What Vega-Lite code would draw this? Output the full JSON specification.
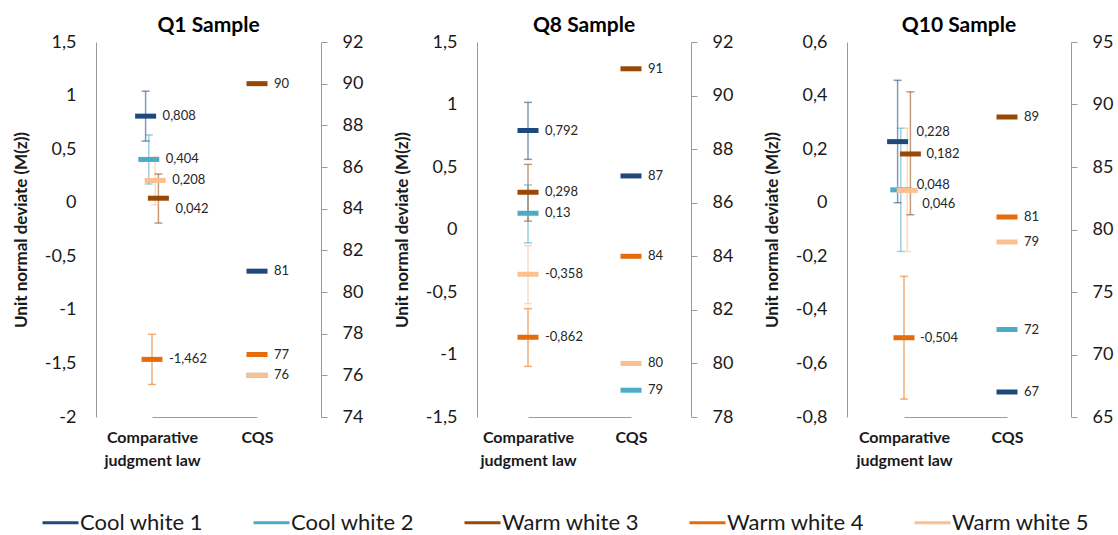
{
  "$schema": "https://vega.github.io/schema/vega-lite/v6.json",
  "padding": {"left": 12, "top": 15, "right": 5, "bottom": 5},
  "spacing": 27,
  "config": {
    "font": "Lato",
    "view": {"stroke": null},
    "locale": {"number": {"decimal": ",", "thousands": ".", "grouping": [3], "currency": ["", " €"], "minus": "-"}},
    "axis": {"grid": false, "labelFont": "Lato", "labelFontSize": 18, "labelColor": "#1a1a1a", "domainColor": "#9a9a9a", "tickColor": "#9a9a9a", "titleFont": "Lato", "titleFontSize": 17, "titleFontWeight": "bold", "titleColor": "#1a1a1a"},
    "title": {"font": "Lato", "fontSize": 21, "fontWeight": "bold", "color": "#000000", "offset": -3},
    "legend": {"labelFont": "Lato", "labelFontSize": 22, "labelColor": "#1a1a1a", "labelLimit": 300, "symbolOpacity": 1}
  },
  "datasets": {
    "q1": [
      {"series": "Cool white 1", "method": "Comparative judgment law", "value": 0.808, "lo": 0.575, "hi": 1.041},
      {"series": "Cool white 2", "method": "Comparative judgment law", "value": 0.404, "lo": 0.175, "hi": 0.632},
      {"series": "Warm white 3", "method": "Comparative judgment law", "value": 0.042, "lo": -0.19, "hi": 0.268},
      {"series": "Warm white 4", "method": "Comparative judgment law", "value": -1.462, "lo": -1.696, "hi": -1.228},
      {"series": "Warm white 5", "method": "Comparative judgment law", "value": 0.208, "lo": -0.02, "hi": 0.427},
      {"series": "Cool white 1", "method": "CQS", "value": 81},
      {"series": "Cool white 2", "method": "CQS", "value": 76},
      {"series": "Warm white 3", "method": "CQS", "value": 90},
      {"series": "Warm white 4", "method": "CQS", "value": 77},
      {"series": "Warm white 5", "method": "CQS", "value": 76}
    ],
    "q8": [
      {"series": "Cool white 1", "method": "Comparative judgment law", "value": 0.792, "lo": 0.561, "hi": 1.017},
      {"series": "Cool white 2", "method": "Comparative judgment law", "value": 0.13, "lo": -0.107, "hi": 0.357},
      {"series": "Warm white 3", "method": "Comparative judgment law", "value": 0.298, "lo": 0.067, "hi": 0.521},
      {"series": "Warm white 4", "method": "Comparative judgment law", "value": -0.862, "lo": -1.095, "hi": -0.633},
      {"series": "Warm white 5", "method": "Comparative judgment law", "value": -0.358, "lo": -0.593, "hi": -0.13},
      {"series": "Cool white 1", "method": "CQS", "value": 87},
      {"series": "Cool white 2", "method": "CQS", "value": 79},
      {"series": "Warm white 3", "method": "CQS", "value": 91},
      {"series": "Warm white 4", "method": "CQS", "value": 84},
      {"series": "Warm white 5", "method": "CQS", "value": 80}
    ],
    "q10": [
      {"series": "Cool white 1", "method": "Comparative judgment law", "value": 0.228, "lo": 0.0, "hi": 0.457},
      {"series": "Cool white 2", "method": "Comparative judgment law", "value": 0.048, "lo": -0.182, "hi": 0.278},
      {"series": "Warm white 3", "method": "Comparative judgment law", "value": 0.182, "lo": -0.045, "hi": 0.414},
      {"series": "Warm white 4", "method": "Comparative judgment law", "value": -0.504, "lo": -0.733, "hi": -0.275},
      {"series": "Warm white 5", "method": "Comparative judgment law", "value": 0.046, "lo": -0.182, "hi": 0.278},
      {"series": "Cool white 1", "method": "CQS", "value": 67},
      {"series": "Cool white 2", "method": "CQS", "value": 72},
      {"series": "Warm white 3", "method": "CQS", "value": 89},
      {"series": "Warm white 4", "method": "CQS", "value": 81},
      {"series": "Warm white 5", "method": "CQS", "value": 79}
    ]
  },
  "hconcat": [
    {
      "title": "Q1 Sample",
      "width": 225, "height": 375,
      "data": {"name": "q1"},
      "encoding": {
        "x": {"field": "method", "type": "nominal", "scale": {"type": "point", "padding": 0, "domain": ["Comparative judgment law", "CQS"], "range": [56, 161]},
              "axis": {"title": null, "ticks": false, "labelAngle": 0, "labelFontSize": 16, "labelFontWeight": "bold", "labelPadding": 12, "labelLineHeight": 23, "labelDx": 7,
                       "labelExpr": "datum.value == 'Comparative judgment law' ? ['Comparative', 'judgment law'] : datum.value"}},
        "color": {"field": "series", "type": "nominal",
                  "scale": {"domain": ["Cool white 1", "Cool white 2", "Warm white 3", "Warm white 4", "Warm white 5"], "range": ["#1F497D", "#4BACC6", "#984807", "#E46C0A", "#FAC090"]},
                  "legend": {"orient": "none", "legendX": -55, "legendY": 461, "direction": "horizontal", "title": null, "symbolType": "stroke", "symbolSize": 1296, "symbolStrokeWidth": 3, "symbolOpacity": 1, "labelOffset": 0, "columnPadding": 44,
                             "encode": {"symbols": {"enter": {"stroke": {"signal": "datum.value == 'Cool white 2' ? '#558ED5' : scale('color', datum.value)"}},
                                                    "update": {"stroke": {"signal": "datum.value == 'Cool white 2' ? '#558ED5' : scale('color', datum.value)"}, "fill": {"value": "transparent"}, "strokeWidth": {"value": 3}, "opacity": {"value": 1}, "strokeOpacity": {"value": 1}}}}}}
      },
      "layer": [
        {
          "transform": [{"filter": "datum.method == 'Comparative judgment law'"}],
          "encoding": {"xOffset": {"field": "series", "type": "nominal", "scale": {"type": "point", "domain": ["Cool white 1", "Cool white 2", "Warm white 4", "Warm white 5", "Warm white 3"], "range": [-8, 8]}}},
          "layer": [
            {"mark": {"type": "rule", "strokeWidth": 1.5, "opacity": 0.55},
             "encoding": {"y": {"field": "lo", "type": "quantitative", "scale": {"domain": [-2, 1.5], "nice": false, "zero": false},
                                "axis": {"title": "Unit normal deviate (M(z))", "values": [-2, -1.5, -1, -0.5, 0, 0.5, 1, 1.5], "format": ".1~f", "ticks": false, "tickSize": 0, "labelPadding": 20, "minExtent": 56, "maxExtent": 56, "titlePadding": 10}},
                          "y2": {"field": "hi"}}},
            {"mark": {"type": "tick", "size": 8, "thickness": 1.5, "opacity": 0.55}, "encoding": {"y": {"field": "lo", "type": "quantitative", "title": "Unit normal deviate (M(z))"}}},
            {"mark": {"type": "tick", "size": 8, "thickness": 1.5, "opacity": 0.55}, "encoding": {"y": {"field": "hi", "type": "quantitative", "title": "Unit normal deviate (M(z))"}}},
            {"mark": {"type": "tick", "size": 21, "thickness": 5, "opacity": 1}, "encoding": {"y": {"field": "value", "type": "quantitative", "title": "Unit normal deviate (M(z))"}}},
            {"transform": [{"filter": "datum.series != 'Warm white 3'"}],
             "mark": {"type": "text", "align": "left", "baseline": "middle", "dx": 17, "fontSize": 13},
             "encoding": {"y": {"field": "value", "type": "quantitative", "title": "Unit normal deviate (M(z))"}, "text": {"field": "value", "type": "quantitative", "format": ".3~f"}, "color": {"value": "#262626"}}},
            {"transform": [{"filter": "datum.series == 'Warm white 3'"}],
             "mark": {"type": "text", "align": "left", "baseline": "middle", "dx": 17, "dy": 11, "fontSize": 13},
             "encoding": {"y": {"field": "value", "type": "quantitative", "title": "Unit normal deviate (M(z))"}, "text": {"field": "value", "type": "quantitative", "format": ".3~f"}, "color": {"value": "#262626"}}}
          ]
        },
        {
          "transform": [{"filter": "datum.method == 'CQS'"}],
          "layer": [
            {"mark": {"type": "tick", "size": 21, "thickness": 5, "opacity": 1},
             "encoding": {"y": {"field": "value", "type": "quantitative", "scale": {"domain": [74, 92], "nice": false, "zero": false},
                                "axis": {"orient": "right", "title": null, "values": [74, 76, 78, 80, 82, 84, 86, 88, 90, 92], "format": "d", "tickSize": 6, "labelPadding": 15, "minExtent": 45, "maxExtent": 45}}}},
            {"transform": [{"filter": "datum.series != 'Warm white 5'"}],
             "mark": {"type": "text", "align": "left", "baseline": "middle", "dx": 17, "fontSize": 13},
             "encoding": {"y": {"field": "value", "type": "quantitative", "title": null}, "text": {"field": "value", "type": "quantitative", "format": "d"}, "color": {"value": "#262626"}}}
          ]
        }
      ],
      "resolve": {"scale": {"y": "independent"}}
    },
    {
      "title": "Q8 Sample",
      "width": 214, "height": 375,
      "data": {"name": "q8"},
      "encoding": {
        "x": {"field": "method", "type": "nominal", "scale": {"type": "point", "padding": 0, "domain": ["Comparative judgment law", "CQS"], "range": [51, 154]},
              "axis": {"title": null, "ticks": false, "labelAngle": 0, "labelFontSize": 16, "labelFontWeight": "bold", "labelPadding": 12, "labelLineHeight": 23, "labelDx": 10,
                       "labelExpr": "datum.value == 'Comparative judgment law' ? ['Comparative', 'judgment law'] : datum.value"}},
        "color": {"field": "series", "type": "nominal",
                  "scale": {"domain": ["Cool white 1", "Cool white 2", "Warm white 3", "Warm white 4", "Warm white 5"], "range": ["#1F497D", "#4BACC6", "#984807", "#E46C0A", "#FAC090"]}}
      },
      "layer": [
        {
          "transform": [{"filter": "datum.method == 'Comparative judgment law'"}],
          "layer": [
            {"mark": {"type": "rule", "strokeWidth": 1.5, "opacity": 0.55},
             "encoding": {"y": {"field": "lo", "type": "quantitative", "scale": {"domain": [-1.5, 1.5], "nice": false, "zero": false},
                                "axis": {"title": "Unit normal deviate (M(z))", "values": [-1.5, -1, -0.5, 0, 0.5, 1, 1.5], "format": ".1~f", "ticks": false, "tickSize": 0, "labelPadding": 20, "minExtent": 56, "maxExtent": 56, "titlePadding": 10}},
                          "y2": {"field": "hi"}}},
            {"mark": {"type": "tick", "size": 8, "thickness": 1.5, "opacity": 0.55}, "encoding": {"y": {"field": "lo", "type": "quantitative", "title": "Unit normal deviate (M(z))"}}},
            {"mark": {"type": "tick", "size": 8, "thickness": 1.5, "opacity": 0.55}, "encoding": {"y": {"field": "hi", "type": "quantitative", "title": "Unit normal deviate (M(z))"}}},
            {"mark": {"type": "tick", "size": 21, "thickness": 5, "opacity": 1}, "encoding": {"y": {"field": "value", "type": "quantitative", "title": "Unit normal deviate (M(z))"}}},
            {"mark": {"type": "text", "align": "left", "baseline": "middle", "dx": 17, "fontSize": 13},
             "encoding": {"y": {"field": "value", "type": "quantitative", "title": "Unit normal deviate (M(z))"}, "text": {"field": "value", "type": "quantitative", "format": ".3~f"}, "color": {"value": "#262626"}}}
          ]
        },
        {
          "transform": [{"filter": "datum.method == 'CQS'"}],
          "layer": [
            {"mark": {"type": "tick", "size": 21, "thickness": 5, "opacity": 1},
             "encoding": {"y": {"field": "value", "type": "quantitative", "scale": {"domain": [78, 92], "nice": false, "zero": false},
                                "axis": {"orient": "right", "title": null, "values": [78, 80, 82, 84, 86, 88, 90, 92], "format": "d", "tickSize": 6, "labelPadding": 15, "minExtent": 45, "maxExtent": 45}}}},
            {"mark": {"type": "text", "align": "left", "baseline": "middle", "dx": 17, "fontSize": 13},
             "encoding": {"y": {"field": "value", "type": "quantitative", "title": null}, "text": {"field": "value", "type": "quantitative", "format": "d"}, "color": {"value": "#262626"}}}
          ]
        }
      ],
      "resolve": {"scale": {"y": "independent"}}
    },
    {
      "title": "Q10 Sample",
      "width": 224, "height": 375,
      "data": {"name": "q10"},
      "encoding": {
        "x": {"field": "method", "type": "nominal", "scale": {"type": "point", "padding": 0, "domain": ["Comparative judgment law", "CQS"], "range": [57, 160]},
              "axis": {"title": null, "ticks": false, "labelAngle": 0, "labelFontSize": 16, "labelFontWeight": "bold", "labelPadding": 12, "labelLineHeight": 23, "labelDx": 6,
                       "labelExpr": "datum.value == 'Comparative judgment law' ? ['Comparative', 'judgment law'] : datum.value"}},
        "color": {"field": "series", "type": "nominal",
                  "scale": {"domain": ["Cool white 1", "Cool white 2", "Warm white 3", "Warm white 4", "Warm white 5"], "range": ["#1F497D", "#4BACC6", "#984807", "#E46C0A", "#FAC090"]}}
      },
      "layer": [
        {
          "transform": [{"filter": "datum.method == 'Comparative judgment law'"}],
          "encoding": {"xOffset": {"field": "series", "type": "nominal", "scale": {"type": "point", "domain": ["Cool white 1", "Warm white 3", "Warm white 4", "Cool white 2", "Warm white 5"], "range": [-8, 13]}}},
          "layer": [
            {"mark": {"type": "rule", "strokeWidth": 1.5, "opacity": 0.55},
             "encoding": {"y": {"field": "lo", "type": "quantitative", "scale": {"domain": [-0.8, 0.6], "nice": false, "zero": false},
                                "axis": {"title": "Unit normal deviate (M(z))", "values": [-0.8, -0.6, -0.4, -0.2, 0, 0.2, 0.4, 0.6], "format": ".1~f", "ticks": false, "tickSize": 0, "labelPadding": 20, "minExtent": 56, "maxExtent": 56, "titlePadding": 10}},
                          "y2": {"field": "hi"}}},
            {"mark": {"type": "tick", "size": 8, "thickness": 1.5, "opacity": 0.55}, "encoding": {"y": {"field": "lo", "type": "quantitative", "title": "Unit normal deviate (M(z))"}}},
            {"mark": {"type": "tick", "size": 8, "thickness": 1.5, "opacity": 0.55}, "encoding": {"y": {"field": "hi", "type": "quantitative", "title": "Unit normal deviate (M(z))"}}},
            {"mark": {"type": "tick", "size": 21, "thickness": 5, "opacity": 1}, "encoding": {"y": {"field": "value", "type": "quantitative", "title": "Unit normal deviate (M(z))"}}},
            {"transform": [{"filter": "datum.series == 'Warm white 3' || datum.series == 'Warm white 4'"}],
             "mark": {"type": "text", "align": "left", "baseline": "middle", "dx": 16, "fontSize": 13},
             "encoding": {"y": {"field": "value", "type": "quantitative", "title": "Unit normal deviate (M(z))"}, "text": {"field": "value", "type": "quantitative", "format": ".3~f"}, "color": {"value": "#262626"}}},
            {"transform": [{"filter": "datum.series == 'Cool white 1'"}],
             "mark": {"type": "text", "align": "left", "baseline": "middle", "dx": 19, "dy": -10, "fontSize": 13},
             "encoding": {"y": {"field": "value", "type": "quantitative", "title": "Unit normal deviate (M(z))"}, "text": {"field": "value", "type": "quantitative", "format": ".3~f"}, "color": {"value": "#262626"}}},
            {"transform": [{"filter": "datum.series == 'Cool white 2'"}],
             "mark": {"type": "text", "align": "left", "baseline": "middle", "dx": 16, "dy": -5, "fontSize": 13},
             "encoding": {"y": {"field": "value", "type": "quantitative", "title": "Unit normal deviate (M(z))"}, "text": {"field": "value", "type": "quantitative", "format": ".3~f"}, "color": {"value": "#262626"}}},
            {"transform": [{"filter": "datum.series == 'Warm white 5'"}],
             "mark": {"type": "text", "align": "left", "baseline": "middle", "dx": 15, "dy": 14, "fontSize": 13},
             "encoding": {"y": {"field": "value", "type": "quantitative", "title": "Unit normal deviate (M(z))"}, "text": {"field": "value", "type": "quantitative", "format": ".3~f"}, "color": {"value": "#262626"}}}
          ]
        },
        {
          "transform": [{"filter": "datum.method == 'CQS'"}],
          "layer": [
            {"mark": {"type": "tick", "size": 21, "thickness": 5, "opacity": 1},
             "encoding": {"y": {"field": "value", "type": "quantitative", "scale": {"domain": [65, 95], "nice": false, "zero": false},
                                "axis": {"orient": "right", "title": null, "values": [65, 70, 75, 80, 85, 90, 95], "format": "d", "tickSize": 6, "labelPadding": 15, "minExtent": 45, "maxExtent": 45}}}},
            {"mark": {"type": "text", "align": "left", "baseline": "middle", "dx": 17, "fontSize": 13},
             "encoding": {"y": {"field": "value", "type": "quantitative", "title": null}, "text": {"field": "value", "type": "quantitative", "format": "d"}, "color": {"value": "#262626"}}}
          ]
        }
      ],
      "resolve": {"scale": {"y": "independent"}}
    }
  ]
}
